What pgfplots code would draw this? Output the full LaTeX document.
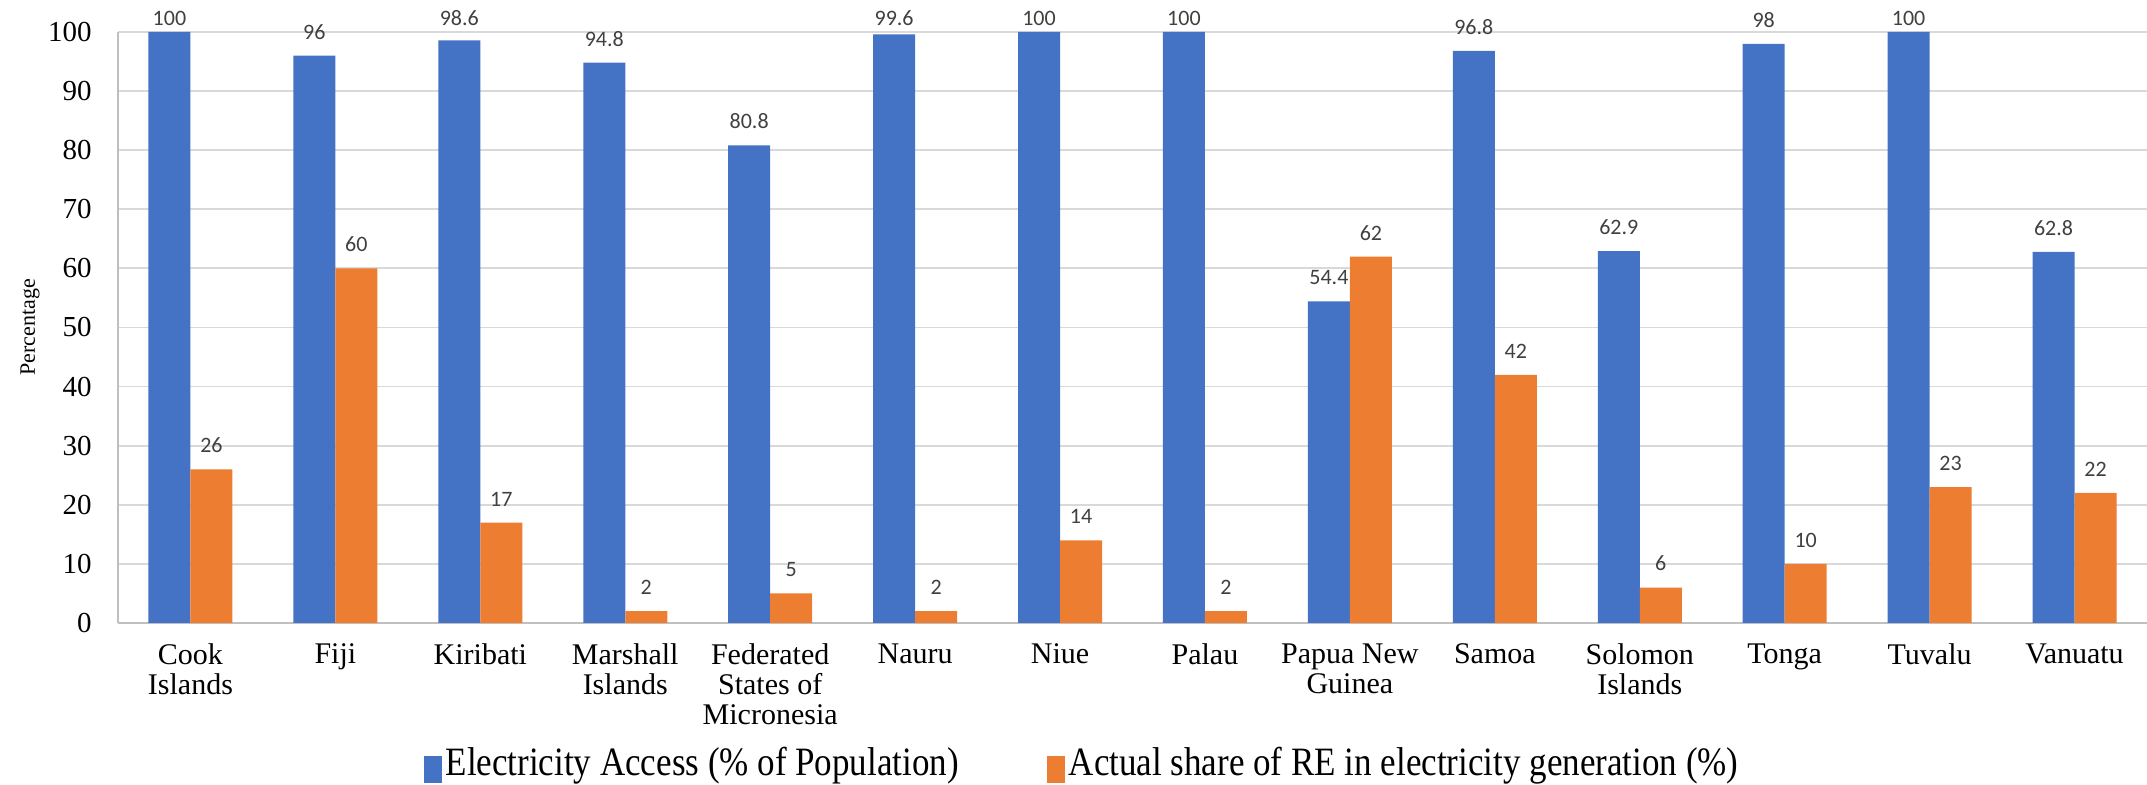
\documentclass[border=0pt]{standalone}
\usepackage{fontspec}
\setmainfont{Liberation Serif}
\newfontfamily\labelfont{Carlito}
\usepackage{graphicx}
\usepackage{pgfplots}
\pgfplotsset{compat=1.18}
\definecolor{accblue}{HTML}{4472C4}
\definecolor{reorange}{HTML}{ED7D31}
\definecolor{lblgray}{HTML}{404040}
\definecolor{gridgray}{HTML}{D9D9D9}
\definecolor{axgray}{HTML}{BFBFBF}

\begin{document}
\begin{tikzpicture}
\begin{axis}[
    at={(59pt,81pt)}, anchor=south west,
    scale only axis,
    width=1014.5pt, height=295.5pt,
    ybar=0pt, bar width=21pt,
    xmin=-0.5, xmax=13.5,
    ymin=0, ymax=100,
    xtick={0,...,13},
    xticklabels={{Cook\\Islands}, Fiji, Kiribati, {Marshall\\Islands},
        {Federated\\States of\\Micronesia}, Nauru, Niue, Palau,
        {Papua New\\Guinea}, Samoa, {Solomon\\Islands}, Tonga, Tuvalu, Vanuatu},
    ytick={0,10,...,100},
    major tick length=0pt,
    axis x line*=bottom, axis y line*=left,
    axis line style={draw=axgray, line width=1pt},
    ymajorgrids, grid style={draw=gridgray, line width=0.9pt},
    /pgf/number format/assume math mode=true,
    xticklabel style={align=center, anchor=north, inner sep=0pt, yshift=-10pt,
        font=\fontsize{15}{15}\selectfont},
    yticklabel style={anchor=east, inner sep=0pt, xshift=-13pt,
        font=\fontsize{14.5}{14.5}\selectfont},
    ylabel={Percentage},
    ylabel style={at={(axis description cs:-0.0434,0.5)}, anchor=center,
        font=\fontsize{11}{11}\selectfont},
    nodes near coords,
    visualization depends on=rawy \as \rawy,
    every node near coord/.append style={font=\labelfont\fontsize{11}{11}\selectfont,
        color=lblgray, anchor=south, inner sep=0pt,
        yshift={min(8,(101.0-\rawy)*2.955)}},
    legend columns=2,
    legend style={draw=none, at={(0.4756,-0.237)}, anchor=center,
        font=\fontsize{17.5}{17.5}\selectfont, inner sep=0pt,
        nodes={inner sep=2pt},
        /tikz/every even column/.append style={column sep=42pt}},
    legend cell align=left,
    legend image code/.code={\fill[#1] (0pt,-10pt) rectangle (9pt,3.5pt);},
]
\addplot[fill=accblue, draw=none] coordinates {
    (0,100) (1,96) (2,98.6) (3,94.8) (4,80.8) (5,99.6) (6,100)
    (7,100) (8,54.4) (9,96.8) (10,62.9) (11,98) (12,100) (13,62.8)};
\addlegendentry{\scalebox{1}[1.15]{Electricity Access (\% of Population)}}
\addplot[fill=reorange, draw=none] coordinates {
    (0,26) (1,60) (2,17) (3,2) (4,5) (5,2) (6,14)
    (7,2) (8,62) (9,42) (10,6) (11,10) (12,23) (13,22)};
\addlegendentry{\scalebox{1}[1.15]{Actual share of RE in electricity generation (\%)}}
\end{axis}
\pgfresetboundingbox
\path[use as bounding box] (0,0) rectangle (1073.5pt,392.5pt);
\end{tikzpicture}
\end{document}
